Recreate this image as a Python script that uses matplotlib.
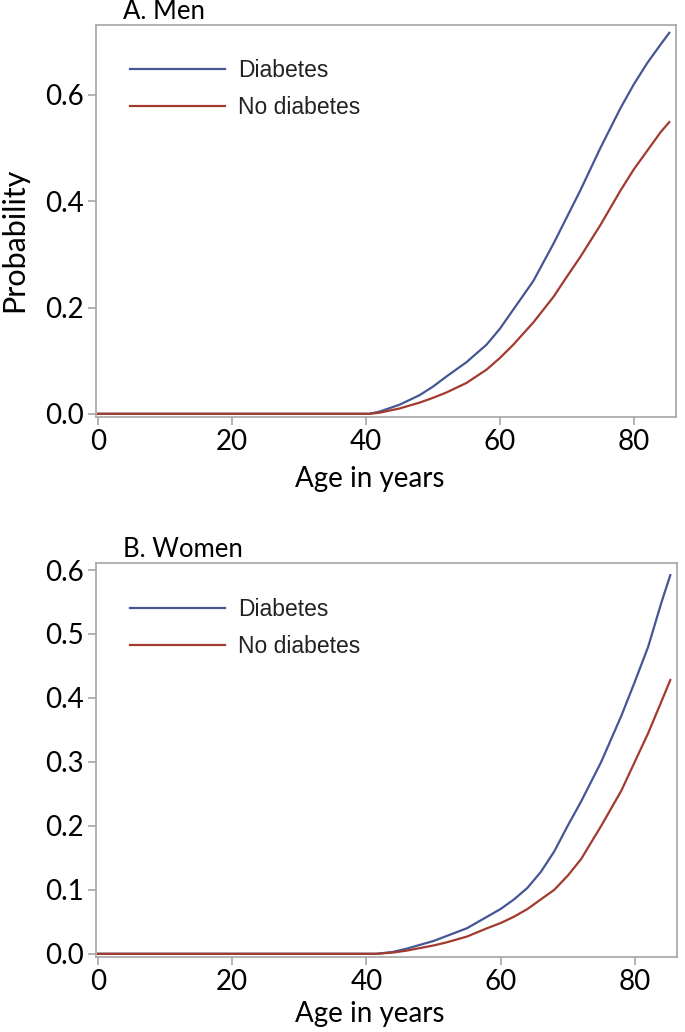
import matplotlib
matplotlib.use("Agg")
import matplotlib.pyplot as plt

# ---------------- data ----------------
men_age = [0, 40.5, 42, 45, 48, 50, 52, 55, 58, 60, 62, 65, 68, 70, 72, 75, 78, 80, 82, 84, 85.3]
men_diabetes = [0, 0, 0.004, 0.017, 0.035, 0.051, 0.070, 0.097, 0.130, 0.160, 0.196, 0.250,
                0.320, 0.370, 0.420, 0.500, 0.575, 0.620, 0.660, 0.695, 0.717]
men_no_diabetes = [0, 0, 0.002, 0.010, 0.021, 0.030, 0.040, 0.058, 0.083, 0.105, 0.130, 0.172,
                   0.220, 0.258, 0.295, 0.355, 0.420, 0.460, 0.495, 0.530, 0.549]

women_age = [0, 41.5, 44, 46, 48, 50, 52, 55, 58, 60, 62, 64, 66, 68, 70, 72, 75, 78, 80, 82, 84, 85.3]
women_diabetes = [0, 0, 0.003, 0.008, 0.014, 0.020, 0.028, 0.040, 0.058, 0.070, 0.085, 0.103,
                  0.128, 0.160, 0.200, 0.238, 0.300, 0.372, 0.425, 0.480, 0.550, 0.592]
women_no_diabetes = [0, 0, 0.002, 0.005, 0.009, 0.013, 0.018, 0.027, 0.040, 0.048, 0.058, 0.070,
                     0.085, 0.100, 0.122, 0.148, 0.200, 0.255, 0.300, 0.345, 0.395, 0.428]

series_labels = ["Diabetes", "No diabetes"]
series_colors = ["#445694", "#A23A2E"]
x_ticks = [0, 20, 40, 60, 80]
men_yticks = [0.0, 0.2, 0.4, 0.6]
women_yticks = [0.0, 0.1, 0.2, 0.3, 0.4, 0.5, 0.6]

# ---------------- figure ----------------
W, H = 685, 1032
fig = plt.figure(figsize=(W / 100, H / 100), dpi=100)

TICK_FONT = "Lato"
LEG_FONT = "Liberation Sans"
spine_col = "#a6a6a6"


def px_axes(left, top, right, bottom):
    return fig.add_axes([left / W, 1 - bottom / H, (right - left) / W, (bottom - top) / H])


def style(ax, yticks, ylim):
    ax.set_xlim(-0.3, 86.3)
    ax.set_ylim(*ylim)
    ax.set_xticks(x_ticks)
    ax.set_yticks(yticks)
    ax.set_yticklabels([f"{v:.1f}" for v in yticks])
    for s in ax.spines.values():
        s.set_color(spine_col)
        s.set_linewidth(1.2)
    ax.tick_params(axis="both", colors=spine_col, length=6, width=1.2, labelcolor="black",
                   labelsize=20, pad=3)
    for lab in ax.get_xticklabels() + ax.get_yticklabels():
        lab.set_fontfamily(TICK_FONT)


def draw(ax, age, d, nd, anchor_y):
    ax.plot(age, d, color=series_colors[0], lw=1.6, label=series_labels[0])
    ax.plot(age, nd, color=series_colors[1], lw=1.6, label=series_labels[1])
    leg = ax.legend(loc="upper left", bbox_to_anchor=(0.058, anchor_y), frameon=False,
                    handlelength=4.15, handletextpad=0.57, labelspacing=0.59,
                    borderpad=0, borderaxespad=0, prop={"family": LEG_FONT, "size": 16.5})
    for t in leg.get_texts():
        t.set_color("#222222")


def xlabel(ax, y):
    ax.set_xlabel("Age in years", fontfamily=TICK_FONT, fontsize=20)
    ax.xaxis.label.set_va("baseline")
    ax.xaxis.set_label_coords(0.472, y)


# Panel A
axA = px_axes(96, 25, 676, 417)
draw(axA, men_age, men_diabetes, men_no_diabetes, 0.9128)
style(axA, men_yticks, (-0.006, 0.7317))
xlabel(axA, -0.1786)
axA.set_ylabel("Probability", fontfamily=TICK_FONT, fontsize=22)
axA.yaxis.label.set_va("center")
axA.yaxis.set_label_coords(-0.1414, 0.4515)
fig.text(123 / W, 1 - 19 / H, "A. Men", fontfamily=TICK_FONT, fontsize=18.5, va="baseline", ha="left")

# Panel B
axB = px_axes(96, 563, 677, 957)
draw(axB, women_age, women_diabetes, women_no_diabetes, 0.9107)
style(axB, women_yticks, (-0.005, 0.611))
xlabel(axB, -0.165)
fig.text(123 / W, 1 - 557 / H, "B. Women", fontfamily=TICK_FONT, fontsize=18.5, va="baseline", ha="left")

fig.savefig("out.png", dpi=100)
